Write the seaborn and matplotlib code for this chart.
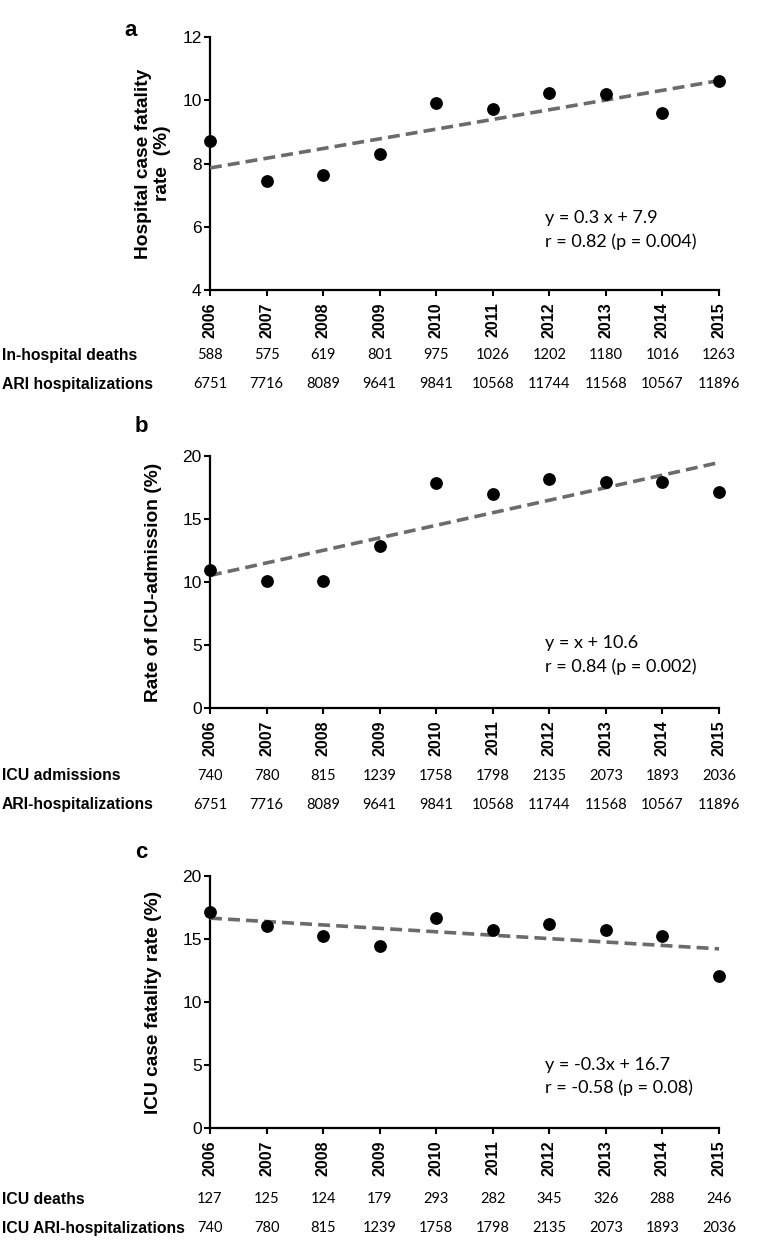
"""
Trends in ARI hospital fatality, ICU admission and ICU fatality, 2006-2015
"""

import numpy as np
import pandas as pd
import matplotlib.pyplot as plt
import matplotlib.transforms as mtransforms
import seaborn as sns

# years on the x axis
years = [2006, 2007, 2008, 2009, 2010, 2011, 2012, 2013, 2014, 2015]

# panel a
hosp_cfr = [8.71, 7.45, 7.65, 8.31, 9.91, 9.71, 10.23, 10.20, 9.61, 10.62]
hosp_deaths = [588, 575, 619, 801, 975, 1026, 1202, 1180, 1016, 1263]
ari_hosp = [6751, 7716, 8089, 9641, 9841, 10568, 11744, 11568, 10567, 11896]

# panel b
icu_rate = [10.96, 10.11, 10.08, 12.85, 17.86, 17.01, 18.18, 17.92, 17.91, 17.11]
icu_adm = [740, 780, 815, 1239, 1758, 1798, 2135, 2073, 1893, 2036]

# panel c
icu_cfr = [17.16, 16.03, 15.21, 14.45, 16.67, 15.68, 16.16, 15.73, 15.21, 12.08]
icu_deaths = [127, 125, 124, 179, 293, 282, 345, 326, 288, 246]

sns.set_style('ticks')
plt.rcParams['font.family'] = ['Liberation Sans', 'DejaVu Sans']
plt.rcParams['text.color'] = 'black'
plt.rcParams['axes.labelcolor'] = 'black'
plt.rcParams['xtick.color'] = 'black'
plt.rcParams['ytick.color'] = 'black'

fig = plt.figure(figsize=(7.59, 12.40), dpi=100)

panels = [
    dict(letter='a', y=hosp_cfr, ylabel='Hospital case fatality\nrate  (%)',
         ylim=(4, 12), yticks=[4, 6, 8, 10, 12],
         eq=['y = 0.3 x + 7.9', 'r = 0.82 (p = 0.004)'], eq_y=(0.285, 0.19),
         rows=[('In-hospital deaths', hosp_deaths), ('ARI hospitalizations', ari_hosp)],
         top=37, bottom=290, letter_pos=(131, 31), row_y=(355, 384)),
    dict(letter='b', y=icu_rate, ylabel='Rate of ICU-admission (%)',
         ylim=(0, 20), yticks=[0, 5, 10, 15, 20],
         eq=['y = x + 10.6', 'r = 0.84 (p = 0.002)'], eq_y=(0.258, 0.163),
         rows=[('ICU admissions', icu_adm), ('ARI-hospitalizations', ari_hosp)],
         top=456, bottom=708, letter_pos=(141, 426), row_y=(776, 805)),
    dict(letter='c', y=icu_cfr, ylabel='ICU case fatality rate (%)',
         ylim=(0, 20), yticks=[0, 5, 10, 15, 20],
         eq=['y = -0.3x + 16.7', 'r = -0.58 (p = 0.08)'], eq_y=(0.25, 0.159),
         rows=[('ICU deaths', icu_deaths), ('ICU ARI-hospitalizations', icu_adm)],
         top=876, bottom=1128, letter_pos=(141, 853), row_y=(1199, 1228)),
]

W, H = 759.0, 1240.0
left_px, right_px = 210, 719
calibri = dict(family=['Lato', 'DejaVu Sans'])

for p in panels:
    ax = fig.add_axes([left_px / W, 1 - p['bottom'] / H,
                       (right_px - left_px) / W, (p['bottom'] - p['top']) / H])
    df = pd.DataFrame({'year': years, 'value': p['y']})
    sns.regplot(data=df, x='year', y='value', ax=ax, ci=None, truncate=True,
                scatter_kws={'s': 85, 'color': 'black', 'alpha': 1, 'clip_on': False,
                             'zorder': 4, 'linewidths': 0},
                line_kws={'color': '#6b6b6b', 'lw': 2.6, 'ls': (0, (3.3, 1.7)),
                          'zorder': 3})

    ax.set_xlim(years[0], years[-1])
    ax.set_ylim(*p['ylim'])
    ax.set_yticks(p['yticks'])
    ax.set_xticks(years)
    ax.set_xticklabels([str(y) for y in years], rotation=90,
                       fontweight='bold', fontsize=11.5)
    ax.tick_params(axis='y', labelsize=12.5)
    ax.tick_params(axis='both', width=1.5, length=4, color='black', pad=2)
    ax.tick_params(axis='x', pad=5)
    for s in ['left', 'bottom']:
        ax.spines[s].set_linewidth(1.6)
        ax.spines[s].set_color('black')
    sns.despine(ax=ax)

    ax.set_xlabel('')
    ax.set_ylabel(p['ylabel'], fontweight='bold', fontsize=13.8, linespacing=1.1)
    ax.yaxis.label.set_va('center')
    ax.yaxis.set_label_coords((153 - left_px) / (right_px - left_px), 0.5)

    for txt, yy in zip(p['eq'], p['eq_y']):
        ax.text(0.658, yy, txt, transform=ax.transAxes, ha='left', va='center',
                fontsize=13, **calibri)

    fig.text(p['letter_pos'][0] / W, 1 - p['letter_pos'][1] / H, p['letter'],
             ha='center', va='center', fontsize=16, fontweight='bold')

    # count table under the x axis
    trans = mtransforms.blended_transform_factory(ax.transData, fig.transFigure)
    for (name, counts), ry in zip(p['rows'], p['row_y']):
        fig.text(0.002, 1 - ry / H, name, ha='left', va='center',
                 fontsize=11.3, fontweight='bold')
        for yr, c in zip(years, counts):
            ax.text(yr, 1 - ry / H, str(c), transform=trans, ha='center',
                    va='center', fontsize=10.5, clip_on=False, **calibri)

fig.savefig('out.png', dpi=100)
